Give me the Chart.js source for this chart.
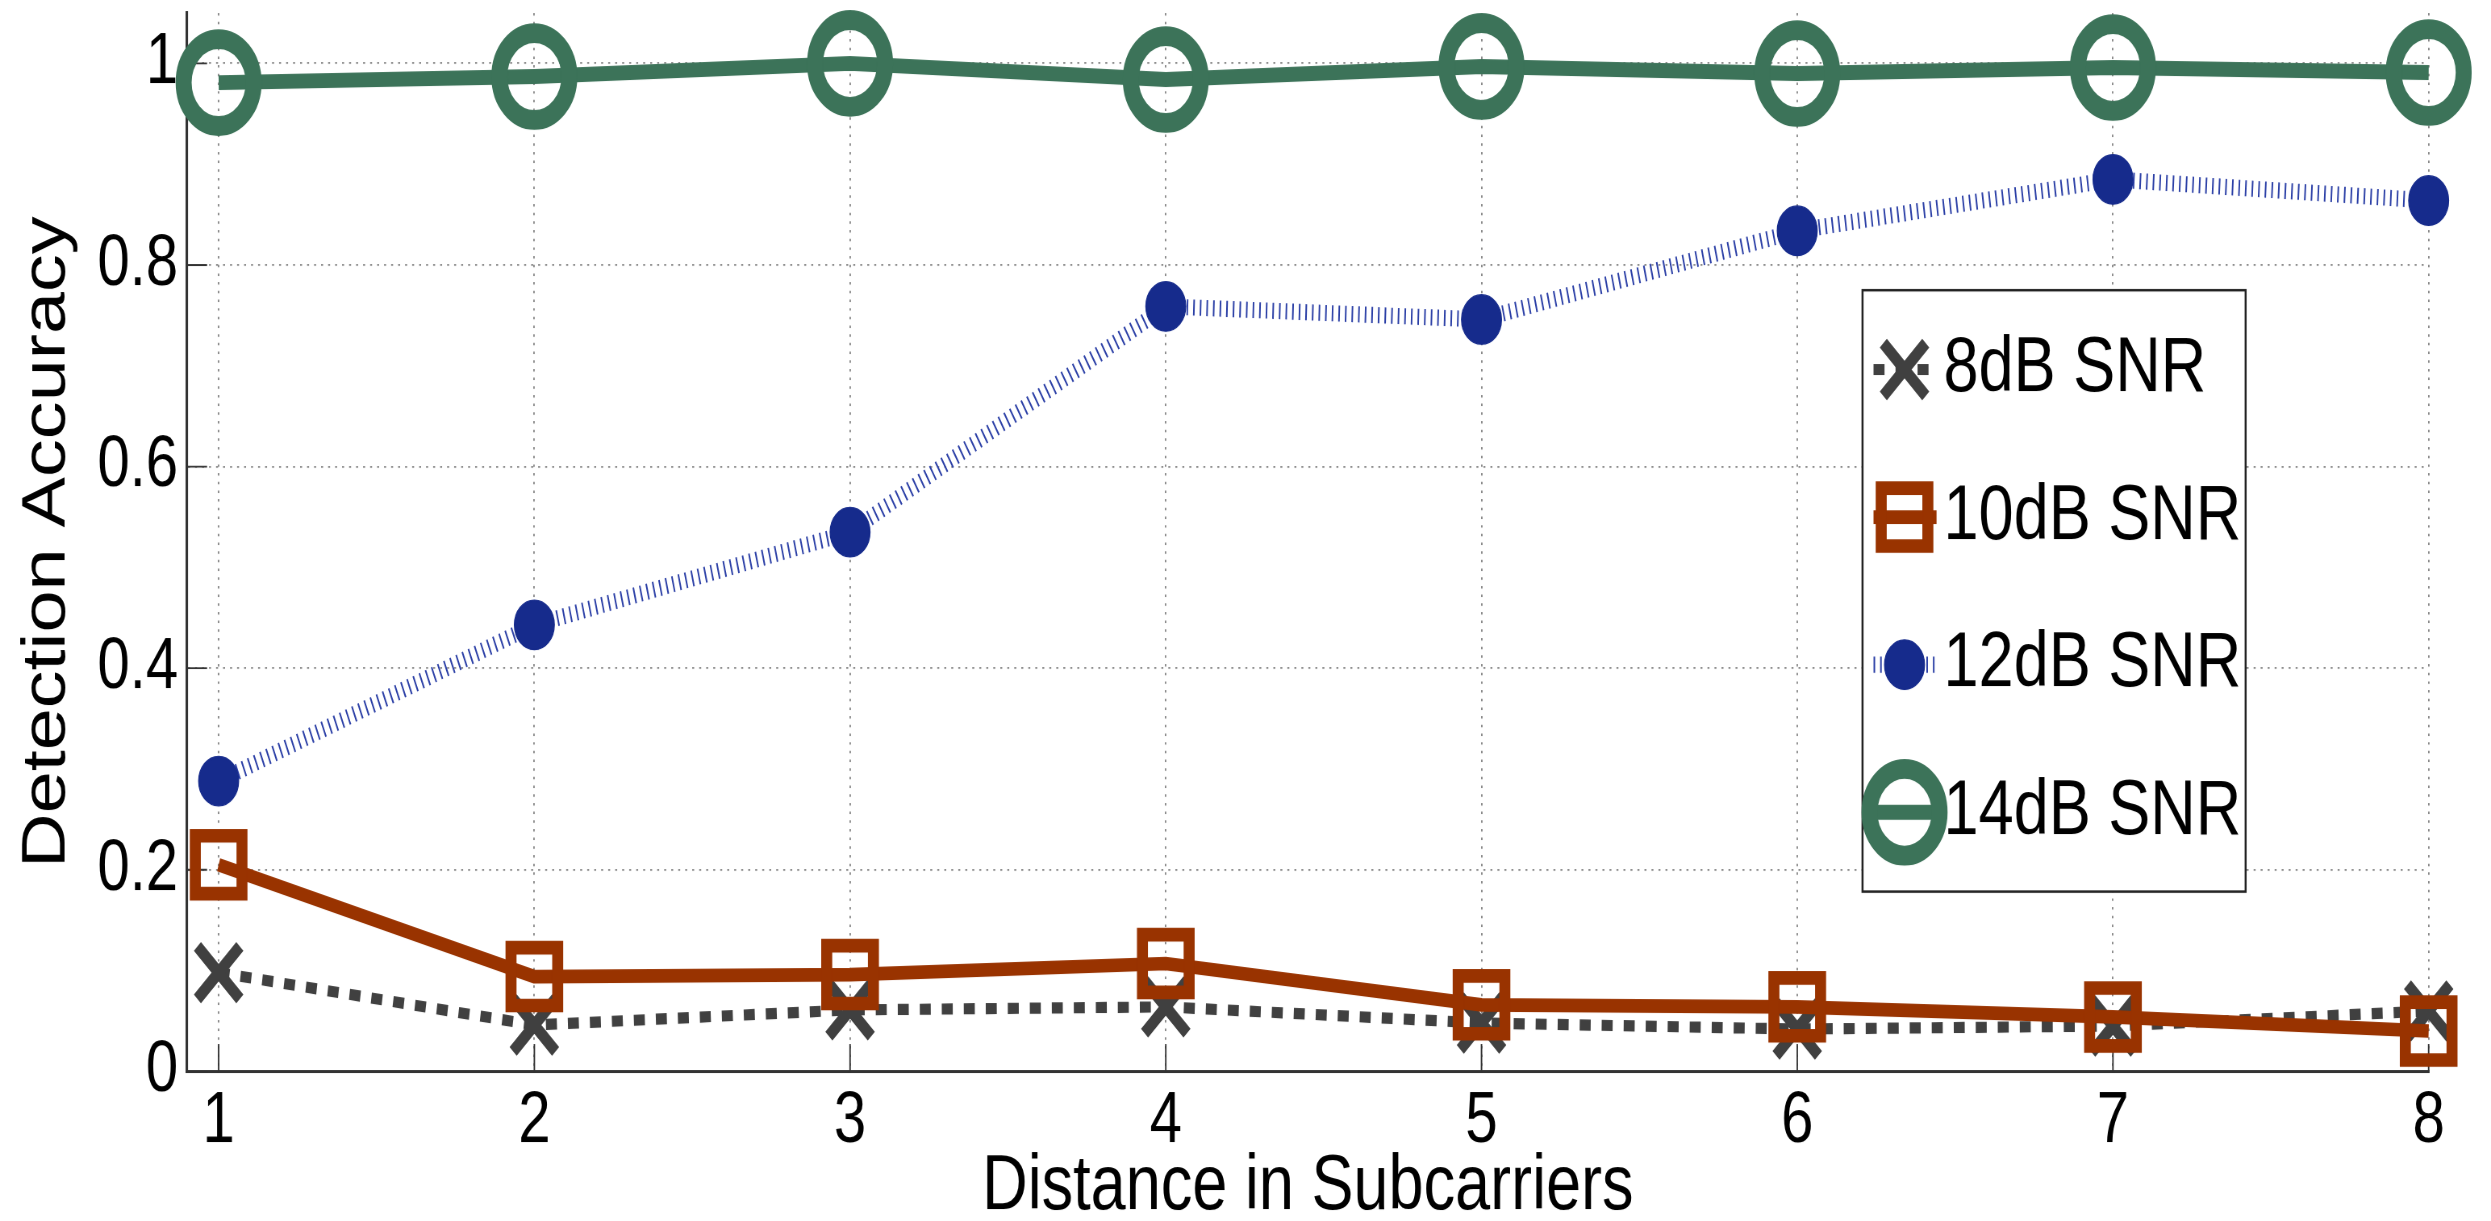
<!DOCTYPE html>
<html>
<head>
<meta charset="utf-8">
<script src="https://cdn.jsdelivr.net/npm/chart.js@4.4.0/dist/chart.umd.min.js"></script>
<style>
  html, body { margin: 0; padding: 0; background: #fff; overflow: hidden; }
  #page { width: 2491px; height: 1221px; overflow: hidden; }
  /* the original figure is stretched vertically, so draw at 985 high and scale up */
  #wrap { width: 2491px; height: 985px; transform: scaleY(1.2396); transform-origin: 0 0; }
</style>
</head>
<body>
<div id="page"><div id="wrap"><canvas id="myChart" width="2491" height="985"></canvas></div></div>
<script>

const distances = [1, 2, 3, 4, 5, 6, 7, 8];
const snr8 = [0.098, 0.046, 0.061, 0.064, 0.048, 0.042, 0.045, 0.060];
const snr10 = [0.205, 0.094, 0.096, 0.107, 0.066, 0.064, 0.054, 0.040];
const snr12 = [0.288, 0.443, 0.535, 0.759, 0.746, 0.834, 0.885, 0.864];
const snr14 = [0.981, 0.987, 1.0, 0.984, 0.997, 0.990, 0.996, 0.991];

const seriesNames = ['8dB SNR', '10dB SNR', '12dB SNR', '14dB SNR'];
const xTicks = [1, 2, 3, 4, 5, 6, 7, 8];
const yTicks = [0, 0.2, 0.4, 0.6, 0.8, 1];

const font = '"Liberation Sans", Arial, sans-serif';
Chart.defaults.font.family = font;
Chart.defaults.color = '#000';

function pairs(values) {
  return values.map((v, i) => ({ x: distances[i], y: v }));
}

// small marker painter for the boxed legend
function drawMarker(ctx, ds, x, y) {
  const r = ds.pointRadius;
  ctx.save();
  ctx.setLineDash([]);
  ctx.lineWidth = ds.pointBorderWidth;
  ctx.strokeStyle = ds.pointBorderColor;
  ctx.fillStyle = ds.pointBackgroundColor;
  ctx.beginPath();
  if (ds.pointStyle === 'circle') {
    ctx.arc(x, y, r, 0, Math.PI * 2);
  } else if (ds.pointStyle === 'rect') {
    const h = r * Math.SQRT1_2;
    ctx.rect(x - h, y - h, 2 * h, 2 * h);
  } else {
    const o = r * Math.SQRT1_2;
    ctx.moveTo(x - o, y - o); ctx.lineTo(x + o, y + o);
    ctx.moveTo(x + o, y - o); ctx.lineTo(x - o, y + o);
  }
  ctx.fill();
  if (ds.pointBorderWidth > 0) ctx.stroke();
  ctx.restore();
}

const innerTicks = {
  id: 'innerTicks',
  beforeDatasetsDraw(chart) {
    const { ctx, chartArea, scales } = chart;
    ctx.save();
    ctx.strokeStyle = '#333';
    ctx.lineWidth = 1.5;
    ctx.beginPath();
    yTicks.forEach(v => {
      const py = scales.y.getPixelForValue(v);
      ctx.moveTo(chartArea.left, py);
      ctx.lineTo(chartArea.left + 20, py);
    });
    xTicks.forEach(v => {
      const px = scales.x.getPixelForValue(v);
      ctx.moveTo(px, chartArea.bottom);
      ctx.lineTo(px, chartArea.bottom - 22);
    });
    ctx.stroke();
    ctx.restore();
  }
};

const boxLegend = {
  id: 'boxLegend',
  afterDraw(chart) {
    const ctx = chart.ctx;
    const left = 1862, top = 234, w = 383, h = 485;
    ctx.save();
    ctx.fillStyle = '#fff';
    ctx.fillRect(left, top, w, h);
    ctx.strokeStyle = '#222';
    ctx.lineWidth = 2;
    ctx.strokeRect(left, top, w, h);
    chart.data.datasets.forEach((ds, i) => {
      const cy = top + 64 + i * 119;
      ctx.save();
      ctx.strokeStyle = ds.borderColor;
      ctx.lineWidth = ds.borderWidth;
      ctx.setLineDash(ds.borderDash || []);
      ctx.beginPath();
      ctx.moveTo(1873, cy);
      ctx.lineTo(1936, cy);
      ctx.stroke();
      ctx.restore();
      drawMarker(ctx, ds, 1904, cy);
      ctx.fillStyle = '#000';
      ctx.font = '63px ' + font;
      ctx.textBaseline = 'middle';
      ctx.fillText(ds.label, 1943, cy);
    });
    ctx.restore();
  }
};

const ctx = document.getElementById('myChart');

const config = {
  type: 'line',
  data: {
    datasets: [
      {
        label: seriesNames[0],
        data: pairs(snr8),
        order: 4,
        borderColor: '#404040',
        borderWidth: 9,
        borderDash: [11, 11],
        pointStyle: 'crossRot',
        pointRadius: 30,
        pointBorderWidth: 10,
        pointBorderColor: '#404040',
        pointBackgroundColor: '#404040'
      },
      {
        label: seriesNames[1],
        data: pairs(snr10),
        order: 3,
        borderColor: '#993300',
        borderWidth: 11,
        pointStyle: 'rect',
        pointRadius: 33,
        pointBorderWidth: 11,
        pointBorderColor: '#993300',
        pointBackgroundColor: 'rgba(255,255,255,0)'
      },
      {
        label: seriesNames[2],
        data: pairs(snr12),
        order: 2,
        borderColor: '#2b3fa6',
        borderWidth: 13,
        borderDash: [1.6, 5],
        pointStyle: 'circle',
        pointRadius: 20,
        pointBorderWidth: 1,
        pointBorderColor: '#162b8c',
        pointBackgroundColor: '#162b8c'
      },
      {
        label: seriesNames[3],
        data: pairs(snr14),
        order: 1,
        borderColor: '#3c7359',
        borderWidth: 12,
        pointStyle: 'circle',
        pointRadius: 35,
        pointBorderWidth: 16,
        pointBorderColor: '#3c7359',
        pointBackgroundColor: 'rgba(255,255,255,0)'
      }
    ]
  },
  options: {
    responsive: false,
    devicePixelRatio: 1.24,
    animation: false,
    events: [],
    elements: { line: { tension: 0, borderCapStyle: 'butt', fill: false } },
    layout: { autoPadding: false, padding: { left: 0, right: 63, top: 10.5, bottom: 0 } },
    plugins: { legend: { display: false }, tooltip: { enabled: false } },
    scales: {
      x: {
        type: 'linear',
        min: 0.9,
        max: 8,
        afterBuildTicks: s => { s.ticks = xTicks.map(v => ({ value: v })); },
        afterFit: s => { s.height = 121; s.paddingLeft = 0; s.paddingRight = 0; },
        ticks: { font: { size: 58 }, padding: 6, maxRotation: 0, autoSkip: false },
        grid: { color: '#888', lineWidth: 1.5, drawTicks: false },
        border: { display: true, color: '#333', width: 2.5, dash: [2, 5] },
        title: {
          display: true,
          text: 'Distance in Subcarriers',
          font: { size: 63, lineHeight: 0.86 },
          padding: { top: 0, bottom: 0 }
        }
      },
      y: {
        min: 0,
        max: 1.05,
        afterBuildTicks: s => { s.ticks = yTicks.map(v => ({ value: v })); },
        afterFit: s => { s.width = 187; s.paddingTop = 0; s.paddingBottom = 0; },
        ticks: { font: { size: 58 }, padding: 9, callback: v => String(v) },
        grid: { color: '#888', lineWidth: 1.5, drawTicks: false },
        border: { display: true, color: '#333', width: 2.5, dash: [2, 5] },
        title: {
          display: true,
          text: 'Detection Accuracy',
          font: { size: 61, lineHeight: 1 },
          padding: { top: 17, bottom: 0 }
        }
      }
    }
  },
  plugins: [innerTicks, boxLegend]
};

config.data.datasets.forEach(ds => { ds.clip = false; });

new Chart(ctx, config);
</script>
</body>
</html>
